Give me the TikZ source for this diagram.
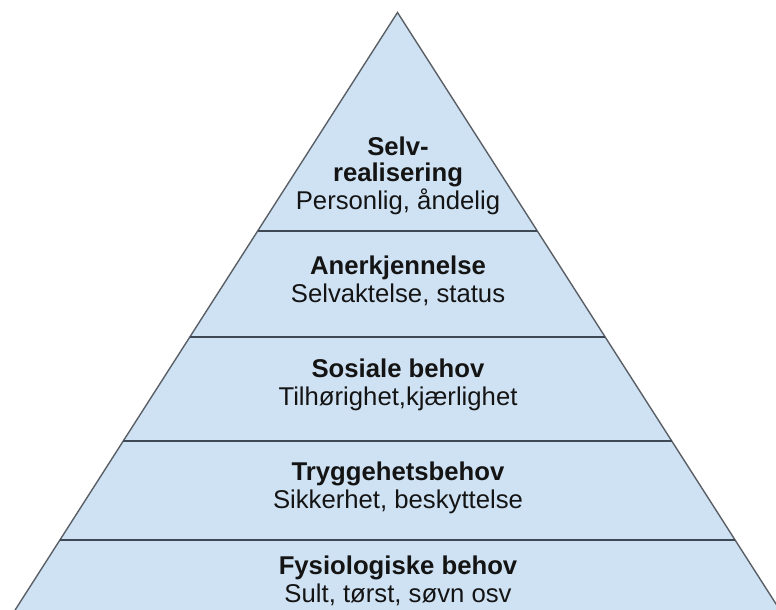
\documentclass[tikz,border=0pt]{standalone}
\usepackage{fontspec}
\setmainfont{Liberation Sans}
\definecolor{pyrfill}{HTML}{CFE2F3}
\definecolor{pyredge}{HTML}{5A5F66}
\definecolor{bandline}{HTML}{3E4955}
\definecolor{txt}{HTML}{141414}
\tikzset{
  pyr/.style={fill=pyrfill, draw=pyredge, line width=1.4pt, line join=miter},
  sep/.style={draw=bandline, line width=1.6pt},
  ttl/.style={anchor=base, inner sep=0pt, text=txt, font=\fontsize{25.7}{28}\selectfont\bfseries},
  sub/.style={anchor=base, inner sep=0pt, text=txt, font=\fontsize{25.7}{28}\selectfont},
}
\begin{document}
\begin{tikzpicture}[x=1pt,y=-1pt]
\useasboundingbox (0,0) rectangle (776,610);
\begin{scope}
\clip (0,0) rectangle (776,610);
\coordinate (apex) at (397.5,12.5);
\coordinate (bl) at (8.7,620);
\coordinate (br) at (786.3,620);
\filldraw[pyr] (apex) -- (bl) -- (br) -- cycle;
\coordinate (l1) at (257.7,231); \coordinate (r1) at (537.3,231);
\coordinate (l2) at (189.8,337); \coordinate (r2) at (605.2,337);
\coordinate (l3) at (123.3,441); \coordinate (r3) at (671.7,441);
\coordinate (l4) at (59.9,540);  \coordinate (r4) at (735.1,540);
\draw[sep] (l1) -- (r1);
\draw[sep] (l2) -- (r2);
\draw[sep] (l3) -- (r3);
\draw[sep] (l4) -- (r4);
\end{scope}
\node[ttl] (t1a) at (398,155) {Selv-};
\node[ttl] (t1b) at (398,181.5) {realisering};
\node[sub] (s1) at (398,209) {Personlig, åndelig};
\node[ttl] (t2) at (398,274.5) {Anerkjennelse};
\node[sub] (s2) at (398,302) {Selvaktelse, status};
\node[ttl] (t3) at (398,377.5) {Sosiale behov};
\node[sub] (s3) at (398,405.5) {Tilhørighet,kjærlighet};
\node[ttl] (t4) at (398,480) {Tryggehetsbehov};
\node[sub] (s4) at (398,508) {Sikkerhet, beskyttelse};
\node[ttl] (t5) at (398,574) {Fysiologiske behov};
\node[sub] (s5) at (398,602) {Sult, tørst, søvn osv};
\end{tikzpicture}
\end{document}
